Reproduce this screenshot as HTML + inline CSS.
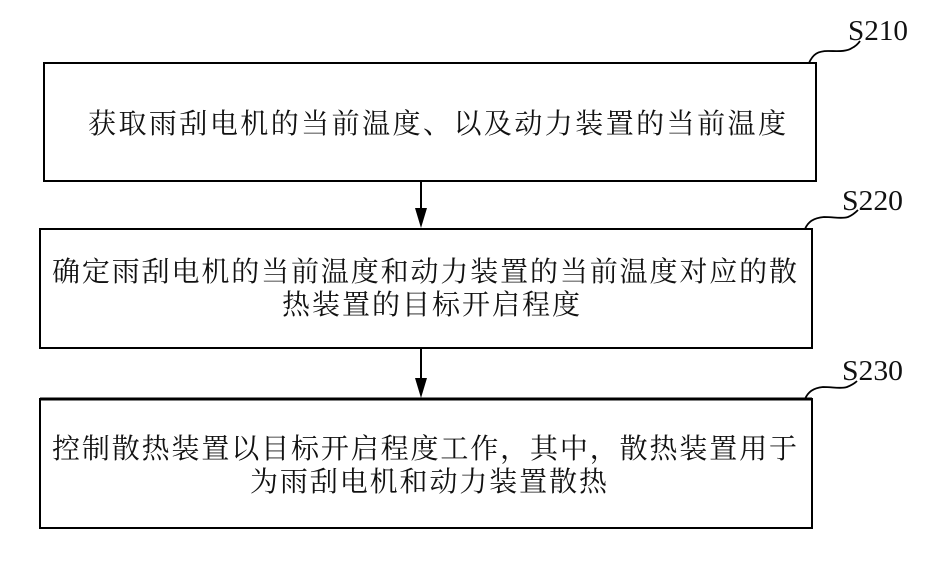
<!DOCTYPE html>
<html>
<head>
<meta charset="utf-8">
<style>
  html, body { margin: 0; padding: 0; background: #fff; }
  body { width: 929px; height: 567px; overflow: hidden; position: relative; }
  svg { position: absolute; left: 0; top: 0; }
  .cjk { font-family: "Liberation Serif", "Noto Serif CJK SC", "Noto Sans CJK SC", serif; font-size: 28px; fill: #111; }
  .lbl { font-family: "Liberation Serif", serif; font-size: 28px; fill: #111; }
</style>
</head>
<body>
<svg width="929" height="567" viewBox="0 0 929 567" xmlns="http://www.w3.org/2000/svg">
  <!-- Boxes -->
  <rect x="44" y="63" width="772" height="118" fill="none" stroke="#000" stroke-width="2"/>
  <rect x="40" y="229" width="772" height="119" fill="none" stroke="#000" stroke-width="2"/>
  <rect x="40" y="399" width="772" height="129" fill="none" stroke="#000" stroke-width="2"/>
  <line x1="40" y1="399" x2="812" y2="399" stroke="#000" stroke-width="3"/>

  <!-- Arrows -->
  <line x1="421" y1="182" x2="421" y2="210" stroke="#000" stroke-width="2"/>
  <polygon points="415,208 427,208 421,228" fill="#000"/>
  <line x1="421" y1="349" x2="421" y2="380" stroke="#000" stroke-width="2"/>
  <polygon points="415,378 427,378 421,398" fill="#000"/>

  <!-- Label curves -->
  <path d="M809,63 C813,54 818,51 828,51 C838,51 846,52 852,48 C856,46 858,44 860,41" fill="none" stroke="#000" stroke-width="1.8"/>
  <path d="M805,229 C808,222 813,218 824,217 C834,217 842,219 848,217 C853,215 856,212 858,210" fill="none" stroke="#000" stroke-width="1.8"/>
  <path d="M805,399 C808,392 813,388 823,387 C833,387 841,389 847,387 C852,385 855,383 857,381" fill="none" stroke="#000" stroke-width="1.8"/>

  <!-- Labels -->
  <text class="lbl" x="848" y="40" textLength="60" lengthAdjust="spacingAndGlyphs">S210</text>
  <text class="lbl" x="842" y="210" textLength="61" lengthAdjust="spacingAndGlyphs">S220</text>
  <text class="lbl" x="842" y="380" textLength="61" lengthAdjust="spacingAndGlyphs">S230</text>

  <!-- Box texts -->
  <text class="cjk" x="88" y="133" textLength="698" lengthAdjust="spacing">获取雨刮电机的当前温度、以及动力装置的当前温度</text>

  <text class="cjk" x="52" y="281" textLength="745" lengthAdjust="spacing">确定雨刮电机的当前温度和动力装置的当前温度对应的散</text>
  <text class="cjk" x="282" y="314" textLength="298" lengthAdjust="spacing">热装置的目标开启程度</text>

  <text class="cjk" x="52" y="458" textLength="745" lengthAdjust="spacing">控制散热装置以目标开启程度工作，其中，散热装置用于</text>
  <text class="cjk" x="250" y="491" textLength="357" lengthAdjust="spacing">为雨刮电机和动力装置散热</text>
</svg>
</body>
</html>
